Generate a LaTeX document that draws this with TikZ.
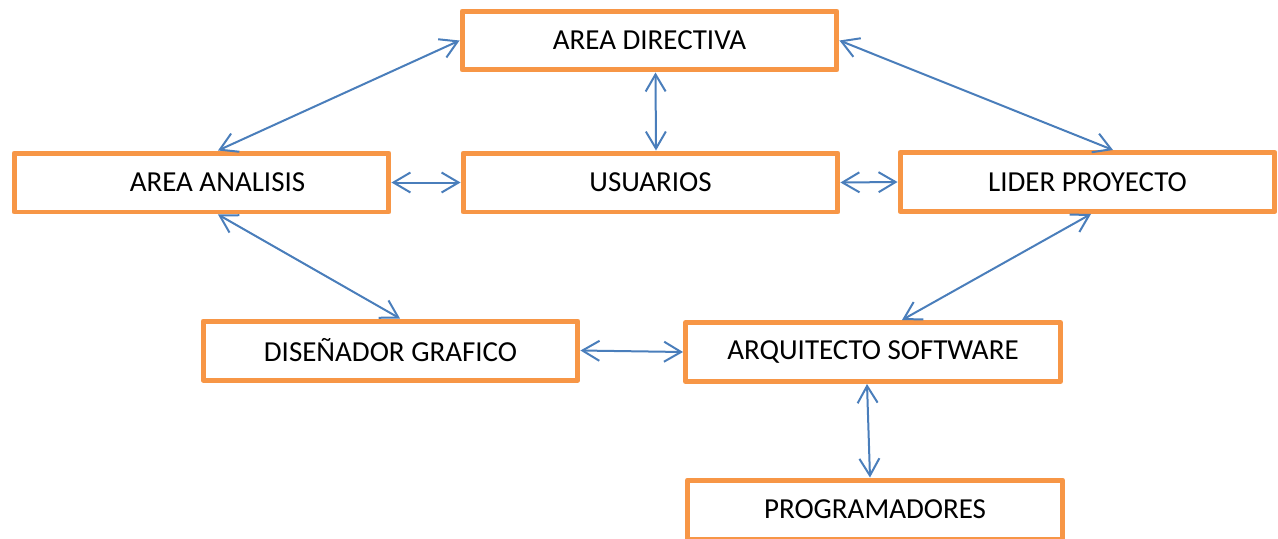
\documentclass[tikz,border=0pt]{standalone}
\usepackage{fontspec}
\setmainfont{Carlito}
\usetikzlibrary{arrows.meta}
\definecolor{boxorange}{HTML}{F79646}
\definecolor{linkblue}{HTML}{4A7EBB}

\begin{document}
\begin{tikzpicture}[x=0.02cm,y=-0.02cm,
    area/.style={draw=boxorange,line width=0.1cm,line join=round,
      minimum width=7.5cm,minimum height=1.18cm,inner sep=0pt,
      font=\fontsize{16.5}{20}\selectfont},
    link/.style={linkblue,line width=0.04cm,
      {Straight Barb[length=0.34cm,width=0.4cm]}-{Straight Barb[length=0.34cm,width=0.4cm]}}]
    \useasboundingbox (0,0) rectangle (1278,538);
    \node[area] (ad) at (649.5,40.5) {AREA DIRECTIVA};
    \node[area] (aa) at (201.5,182.5) {\hspace*{0.64cm}AREA ANALISIS};
    \node[area] (us) at (650.5,182.5) {USUARIOS};
    \node[area] (lp) at (1087.5,182) {LIDER PROYECTO};
    \node[area] (dg) at (390.5,350.5) {DISEÑADOR GRAFICO};
    \node[area] (aq) at (873,352) {ARQUITECTO SOFTWARE};
    \node[area] (pr) at (875,509.5) {PROGRAMADORES};
    \draw[link] (ad.west) -- ([xshift=0.33cm]aa.north);
    \draw[link] (ad.east) -- ([xshift=0.51cm]lp.north);
    \draw[link] ([xshift=0.12cm]ad.south) -- ([xshift=0.11cm]us.north);
    \draw[link] (aa.east) -- (us.west);
    \draw[link] (us.east) -- (lp.west);
    \draw[link] ([xshift=0.33cm]aa.south) -- ([xshift=0.19cm]dg.north);
    \draw[link] ([xshift=0.07cm]lp.south) -- ([xshift=0.58cm]aq.north);
    \draw[link] (dg.east) -- (aq.west);
    \draw[link] ([xshift=-0.12cm]aq.south) -- ([xshift=-0.1cm]pr.north);
\end{tikzpicture}
\end{document}
